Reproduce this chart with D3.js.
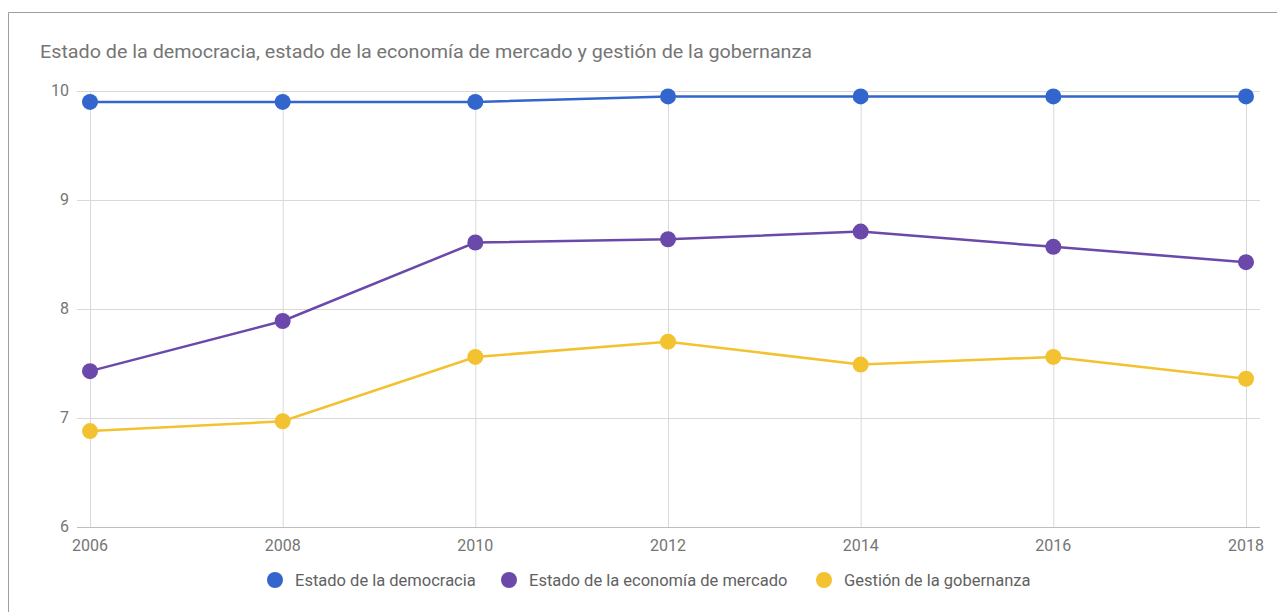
<!DOCTYPE html>
<html>
<head>
<meta charset="utf-8">
<script src="https://cdn.jsdelivr.net/npm/d3@7"></script>
<style>
	body { margin: 0; background: #fff; font-family: Roboto, "Noto Sans", sans-serif; }
	svg { display: block; }
</style>
</head>
<body>
<svg id="chart" width="1277" height="612"></svg>
<script>
// Chart data
const years = [2006, 2008, 2010, 2012, 2014, 2016, 2018];
const democracia = [9.9, 9.9, 9.9, 9.95, 9.95, 9.95, 9.95];
const economia = [7.43, 7.89, 8.61, 8.64, 8.71, 8.57, 8.43];
const gobernanza = [6.88, 6.97, 7.56, 7.70, 7.49, 7.56, 7.36];
const yTicks = [6, 7, 8, 9, 10];
const seriesNames = ["Estado de la democracia", "Estado de la economía de mercado", "Gestión de la gobernanza"];
const seriesColors = ["#3366cc", "#6a49ab", "#f2c230"];

const series = [democracia, economia, gobernanza].map((vals, i) => ({
	name: seriesNames[i],
	color: seriesColors[i],
	values: vals.map((v, j) => ({year: years[j], value: v}))
}));

const svg = d3.select("#chart");

// outer frame
svg.append("path")
	.attr("d", "M8.5,612 V12.5 H1277")
	.attr("fill", "none")
	.attr("stroke", "#9e9e9e")
	.attr("stroke-width", 1);

svg.append("text")
	.attr("x", 40)
	.attr("y", 58)
	.attr("font-size", 18)
	.attr("fill", "#757575")
	.attr("textLength", 772)
	.attr("lengthAdjust", "spacingAndGlyphs")
	.text("Estado de la democracia, estado de la economía de mercado y gestión de la gobernanza");

const x = d3.scaleLinear().domain([2006, 2018]).range([90, 1246]);
const y = d3.scaleLinear().domain([6, 10]).range([527, 91]);

// horizontal grid
svg.append("g").selectAll("line")
	.data(yTicks)
	.join("line")
	.attr("x1", 77)
	.attr("x2", 1260)
	.attr("y1", d => y(d) + 0.5)
	.attr("y2", d => y(d) + 0.5)
	.attr("stroke", d => d === 6 ? "#bdbdbd" : "#d9d9d9");

// vertical grid
svg.append("g").selectAll("line")
	.data(years)
	.join("line")
	.attr("x1", d => x(d) + 0.5)
	.attr("x2", d => x(d) + 0.5)
	.attr("y1", y(10))
	.attr("y2", y(6))
	.attr("stroke", "#d9d9d9");

// y labels
svg.append("g").selectAll("text")
	.data(yTicks)
	.join("text")
	.attr("x", 69)
	.attr("y", d => y(d) + 5)
	.attr("text-anchor", "end")
	.attr("font-size", 16)
	.attr("fill", "#757575")
	.text(d => d);

// x labels
svg.append("g").selectAll("text")
	.data(years)
	.join("text")
	.attr("x", d => x(d))
	.attr("y", 551)
	.attr("text-anchor", "middle")
	.attr("font-size", 16)
	.attr("fill", "#757575")
	.text(d => d);

const line = d3.line()
	.x(d => x(d.year))
	.y(d => y(d.value));

const g = svg.append("g").selectAll("g")
	.data(series)
	.join("g");

g.append("path")
	.attr("d", d => line(d.values))
	.attr("fill", "none")
	.attr("stroke", d => d.color)
	.attr("stroke-width", 2.5);

g.selectAll("circle")
	.data(d => d.values.map(v => ({...v, color: d.color})))
	.join("circle")
	.attr("cx", d => x(d.year))
	.attr("cy", d => y(d.value))
	.attr("r", 8)
	.attr("fill", d => d.color);

// legend
const legendX = [275, 509, 824];
const legend = svg.append("g").selectAll("g")
	.data(series)
	.join("g")
	.attr("transform", (d, i) => `translate(${legendX[i]},580)`);

legend.append("circle")
	.attr("r", 8)
	.attr("fill", d => d.color);

legend.append("text")
	.attr("x", 20)
	.attr("y", 6)
	.attr("font-size", 16.5)
	.attr("fill", "#616161")
	.text(d => d.name);
</script>
</body>
</html>
